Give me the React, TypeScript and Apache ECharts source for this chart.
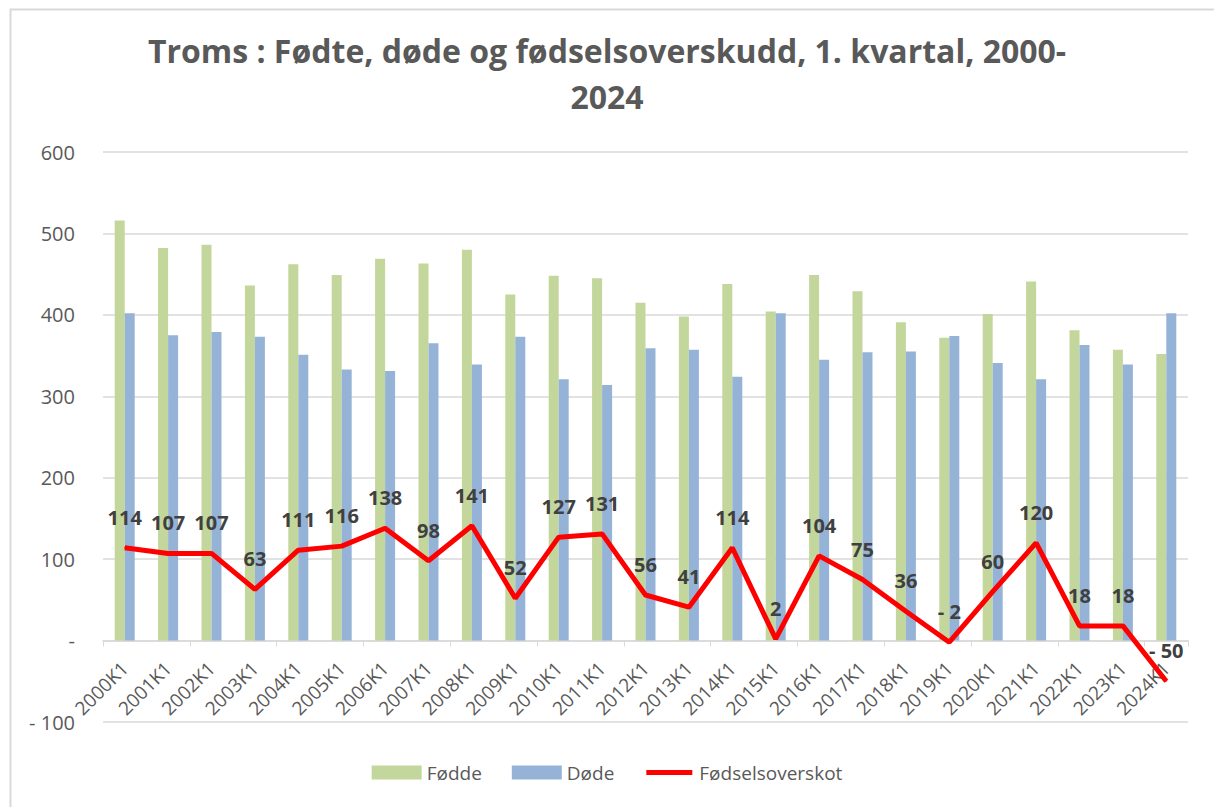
import React, { useEffect, useRef } from "react";
import * as echarts from "echarts";

const categories = [
  "2000K1", "2001K1", "2002K1", "2003K1", "2004K1", "2005K1", "2006K1", "2007K1", "2008K1", "2009K1",
  "2010K1", "2011K1", "2012K1", "2013K1", "2014K1", "2015K1", "2016K1", "2017K1", "2018K1", "2019K1",
  "2020K1", "2021K1", "2022K1", "2023K1", "2024K1",
];
const fodde = [516, 482, 486, 436, 462, 449, 469, 463, 480, 425, 448, 445, 415, 398, 438, 404, 449, 429, 391, 372, 401, 441, 381, 357, 352];
const dode = [402, 375, 379, 373, 351, 333, 331, 365, 339, 373, 321, 314, 359, 357, 324, 402, 345, 354, 355, 374, 341, 321, 363, 339, 402];
const overskot = [114, 107, 107, 63, 111, 116, 138, 98, 141, 52, 127, 131, 56, 41, 114, 2, 104, 75, 36, -2, 60, 120, 18, 18, -50];

const titleLine1 = "Troms : Fødte, døde og fødselsoverskudd, 1. kvartal, 2000-";
const titleLine2 = "2024";
const fontFamily = "'Open Sans', 'Noto Sans', sans-serif";

const fmt = (v: number) => (v === 0 ? "-" : v < 0 ? "- " + Math.abs(v) : String(v));

const titleStyle = {
  fontFamily,
  fontSize: 32,
  fontWeight: "bold",
  color: "#595959",
  lineHeight: 40,
};

export default function App() {
  const ref = useRef<HTMLDivElement>(null);
  useEffect(() => {
    if (!ref.current) return;
    const chart = echarts.init(ref.current, null, { renderer: "svg" });
    chart.setOption({
      animation: false,
      backgroundColor: "#ffffff",
      graphic: [
        {
          type: "rect",
          left: 8,
          top: 7,
          shape: { width: 1230, height: 830 },
          style: { fill: "none", stroke: "#d9d9d9", lineWidth: 2 },
          silent: true,
          z: -10,
        },
      ],
      title: [
        { text: titleLine1, left: "center", top: 30, padding: 0, textStyle: titleStyle },
        { text: titleLine2, left: "center", top: 76, padding: 0, textStyle: titleStyle },
      ],
      grid: { left: 103, right: 26, top: 152, bottom: 85, containLabel: false },
      legend: {
        bottom: 20,
        left: "center",
        itemWidth: 50,
        itemHeight: 14,
        itemGap: 30,
        textStyle: { fontFamily, fontSize: 19, color: "#595959" },
        data: [
          { name: "Fødde", icon: "rect" },
          { name: "Døde", icon: "rect" },
          {
            name: "Fødselsoverskot",
            icon: "path://M0,0 L50,0 L50,0.01 L0,0.01 Z M2,4.5 L48,4.5 L48,9.5 L2,9.5 Z M0,13.99 L50,13.99 L50,14 L0,14 Z",
            itemStyle: { color: "#ff0000" },
          },
        ],
      },
      xAxis: [
        {
          type: "category",
          data: categories,
          boundaryGap: true,
          axisLine: { onZero: true, lineStyle: { color: "#d9d9d9", width: 1.5 } },
          axisTick: { show: true, length: 6, lineStyle: { color: "#d9d9d9" } },
          axisLabel: { show: false },
          splitLine: { show: false },
        },
        {
          type: "category",
          data: categories,
          boundaryGap: true,
          position: "bottom",
          offset: -81,
          axisLine: { show: false },
          axisTick: { show: false },
          axisLabel: {
            rotate: 45,
            interval: 0,
            fontFamily,
            fontSize: 19,
            color: "#595959",
            margin: 24,
          },
          splitLine: { show: false },
        },
      ],
      yAxis: {
        type: "value",
        min: -100,
        max: 600,
        interval: 100,
        axisLine: { show: false },
        axisTick: { show: false },
        axisLabel: {
          fontFamily,
          fontSize: 20,
          color: "#595959",
          margin: 28,
          align: "right",
          formatter: (v: number) => fmt(v),
        },
        splitLine: { lineStyle: { color: "#d9d9d9", width: 1.5 } },
      },
      series: [
        {
          name: "Fødde",
          type: "bar",
          data: fodde,
          barWidth: 10,
          barGap: "0%",
          itemStyle: { color: "#c3d69b" },
        },
        {
          name: "Døde",
          type: "bar",
          data: dode,
          barWidth: 10,
          barGap: "0%",
          itemStyle: { color: "#95b3d7" },
        },
        {
          name: "Fødselsoverskot",
          type: "line",
          data: overskot,
          showSymbol: true,
          symbol: "circle",
          symbolSize: 1,
          lineStyle: { color: "#ff0000", width: 5 },
          itemStyle: { color: "#ff0000" },
          z: 5,
          label: {
            show: true,
            position: "top",
            distance: 20,
            fontFamily,
            fontSize: 20,
            fontWeight: "bold",
            color: "#404040",
            formatter: (p: any) => fmt(p.value),
          },
        },
      ],
    });
    return () => chart.dispose();
  }, []);
  return (
    <div
      ref={ref}
      style={{ position: "fixed", left: 0, top: 0, width: 1214, height: 807 }}
    />
  );
}
